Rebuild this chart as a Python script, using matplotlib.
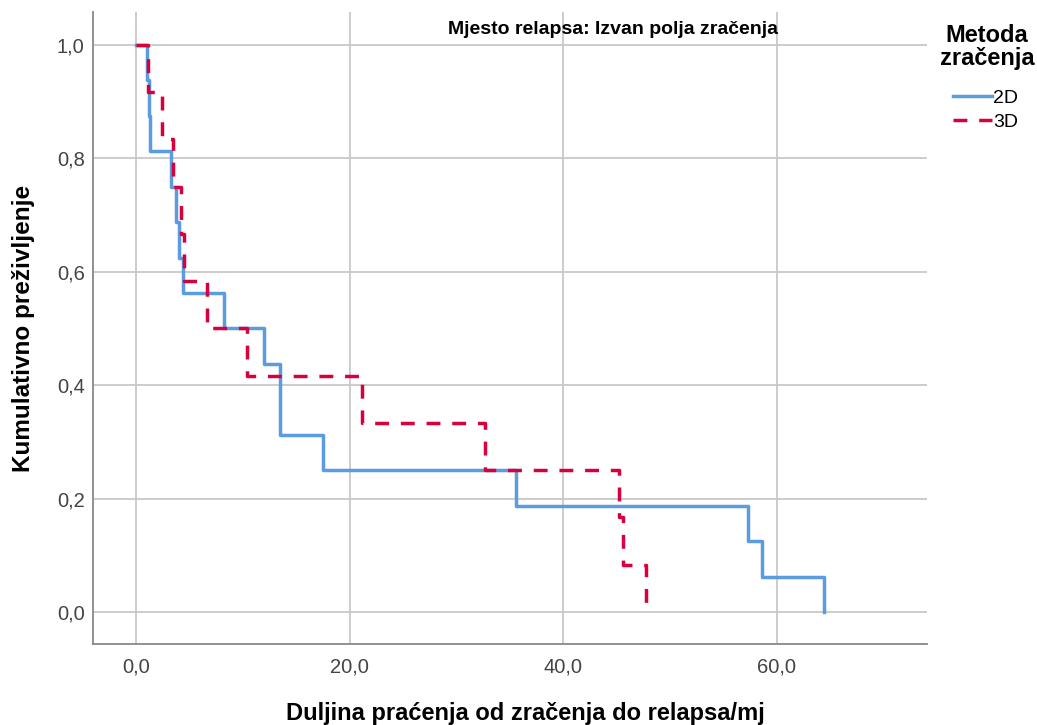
import matplotlib.pyplot as plt
from matplotlib.ticker import FuncFormatter

plt.rcParams['font.family'] = ['Liberation Sans', 'DejaVu Sans']

# Kaplan-Meier steps (time in months, cumulative survival)
times_2d = [0, 1.0, 1.2, 1.3, 3.3, 3.75, 4.0, 4.4, 8.2, 12.0, 13.5, 17.5, 35.6, 57.3, 58.6, 64.4]
surv_2d = [1.0, 0.9375, 0.875, 0.8125, 0.75, 0.6875, 0.625, 0.5625, 0.5, 0.4375,
           0.3125, 0.25, 0.1875, 0.125, 0.0625, 0.0]

times_3d = [0, 1.1, 2.4, 3.5, 4.2, 4.5, 6.6, 10.4, 21.2, 32.7, 45.2, 45.6, 47.75]
surv_3d = [1.0, 11/12, 10/12, 9/12, 8/12, 7/12, 6/12, 5/12, 4/12, 3/12, 2/12, 1/12, 0.0]

x_ticks = [0, 20, 40, 60]
y_ticks = [0.0, 0.2, 0.4, 0.6, 0.8, 1.0]

fig = plt.figure(figsize=(10.37, 7.25), dpi=100)
ax = fig.add_axes([93/1037, 1 - 644/725, (927 - 93)/1037, (644 - 12)/725])

ax.step(times_2d, surv_2d, where='post', color='#5b9be0', lw=2.5, label='2D', zorder=3)
ax.step(times_3d, surv_3d, where='post', color='#d8003c', lw=2.5,
        linestyle=(0, (4, 3.4)), label='3D', zorder=4)

ax.set_xlim(-4.03, 74.06)
ax.set_ylim(-0.0564, 1.058)
ax.set_xticks(x_ticks)
ax.set_yticks(y_ticks)
comma = FuncFormatter(lambda v, p: f'{v:.1f}'.replace('.', ','))
ax.xaxis.set_major_formatter(comma)
ax.yaxis.set_major_formatter(comma)
ax.tick_params(length=0, labelsize=14.5, colors='#444444')
ax.tick_params(axis='x', pad=10)
ax.tick_params(axis='y', pad=6)
ax.grid(True, color='#c8c8c8', lw=1.3)
ax.set_axisbelow(True)
for s in ['top', 'right']:
    ax.spines[s].set_visible(False)
for s in ['left', 'bottom']:
    ax.spines[s].set_color('#888888')
    ax.spines[s].set_linewidth(1.3)

ax.set_xlabel('Duljina praćenja od zračenja do relapsa/mj', fontsize=17, fontweight='bold')
ax.xaxis.set_label_coords((525 - 93) / 834, (644 - 702) / 632)
ax.set_ylabel('Kumulativno preživljenje', fontsize=17.5, fontweight='bold')
ax.yaxis.set_label_coords((35 - 93) / 834, 0.5)
ax.text((613.5 - 93) / 834, (644 - 30) / 632, 'Mjesto relapsa: Izvan polja zračenja',
        transform=ax.transAxes, ha='center', va='center', fontsize=14, fontweight='bold')

# legend title and entries placed separately to match the spacing
fig.text(987/1037, 1 - 47/725, 'Metoda\nzračenja', ha='center', va='center',
         fontsize=17, fontweight='bold', linespacing=1.05)
fig.legend(loc='upper left', bbox_to_anchor=(941/1037, 1 - 78/725), frameon=False,
           fontsize=14, handlelength=2.0, handletextpad=0.1, labelspacing=0.3,
           borderpad=0.1)

fig.savefig('out.png', dpi=100)
